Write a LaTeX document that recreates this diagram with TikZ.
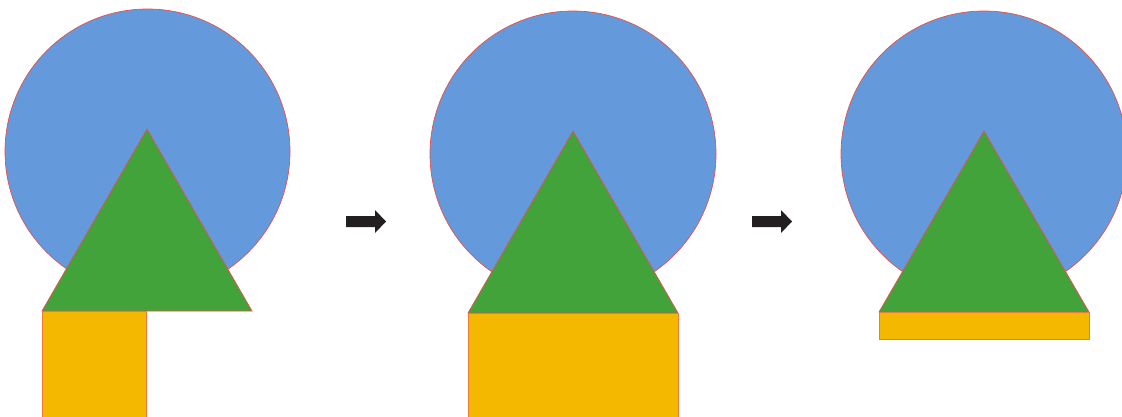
\documentclass[tikz,border=0pt]{standalone}
\usepackage{tikz}
\usetikzlibrary{calc}
\definecolor{azulCirculo}{HTML}{6499DC}
\definecolor{verdeTri}{HTML}{42A33A}
\definecolor{naranjaBase}{HTML}{F5B800}
\definecolor{rojoBorde}{HTML}{E8504B}
\definecolor{naranjaBorde}{HTML}{F07A3A}
\definecolor{negroFlecha}{HTML}{231F20}

\begin{document}
\begin{tikzpicture}[
        x=0.025cm, y=-0.025cm,
        circ/.style={fill=azulCirculo, draw=rojoBorde, line width=0.5pt},
        tri/.style={fill=verdeTri, draw=rojoBorde, line width=0.5pt, line join=miter},
        base/.style={fill=naranjaBase, draw=naranjaBorde, line width=0.6pt},
        flecha/.style={fill=negroFlecha, draw=none}
    ]
        \useasboundingbox (0,0) rectangle (1122,416);
        \clip (0,0) rectangle (1122,416);

        % primera figura
        \draw[circ] (147.5,151.5) circle (142.5);
        \draw[tri] (147,129) -- (252,311) -- (42,311) -- cycle;
        \draw[base] (42,311) rectangle (146,420);

        % segunda figura
        \draw[circ] (573,154) circle (143);
        \draw[tri] (573,131) -- (678,313) -- (468,313) -- cycle;
        \draw[base] (468,313) rectangle (678,420);

        % tercera figura
        \draw[circ] (984,154) circle (143);
        \draw[tri] (984,131) -- (1089,312) -- (879,312) -- cycle;
        \draw[base] (879,312) rectangle (1089,339);

        % flechas
        \foreach \xf in {346,752} {
            \fill[flecha] (\xf,216) -- (\xf+29,216) -- (\xf+29,210) -- (\xf+40,221.5)
                -- (\xf+29,233) -- (\xf+29,227) -- (\xf,227) -- cycle;
        }
    \end{tikzpicture}
\end{document}
